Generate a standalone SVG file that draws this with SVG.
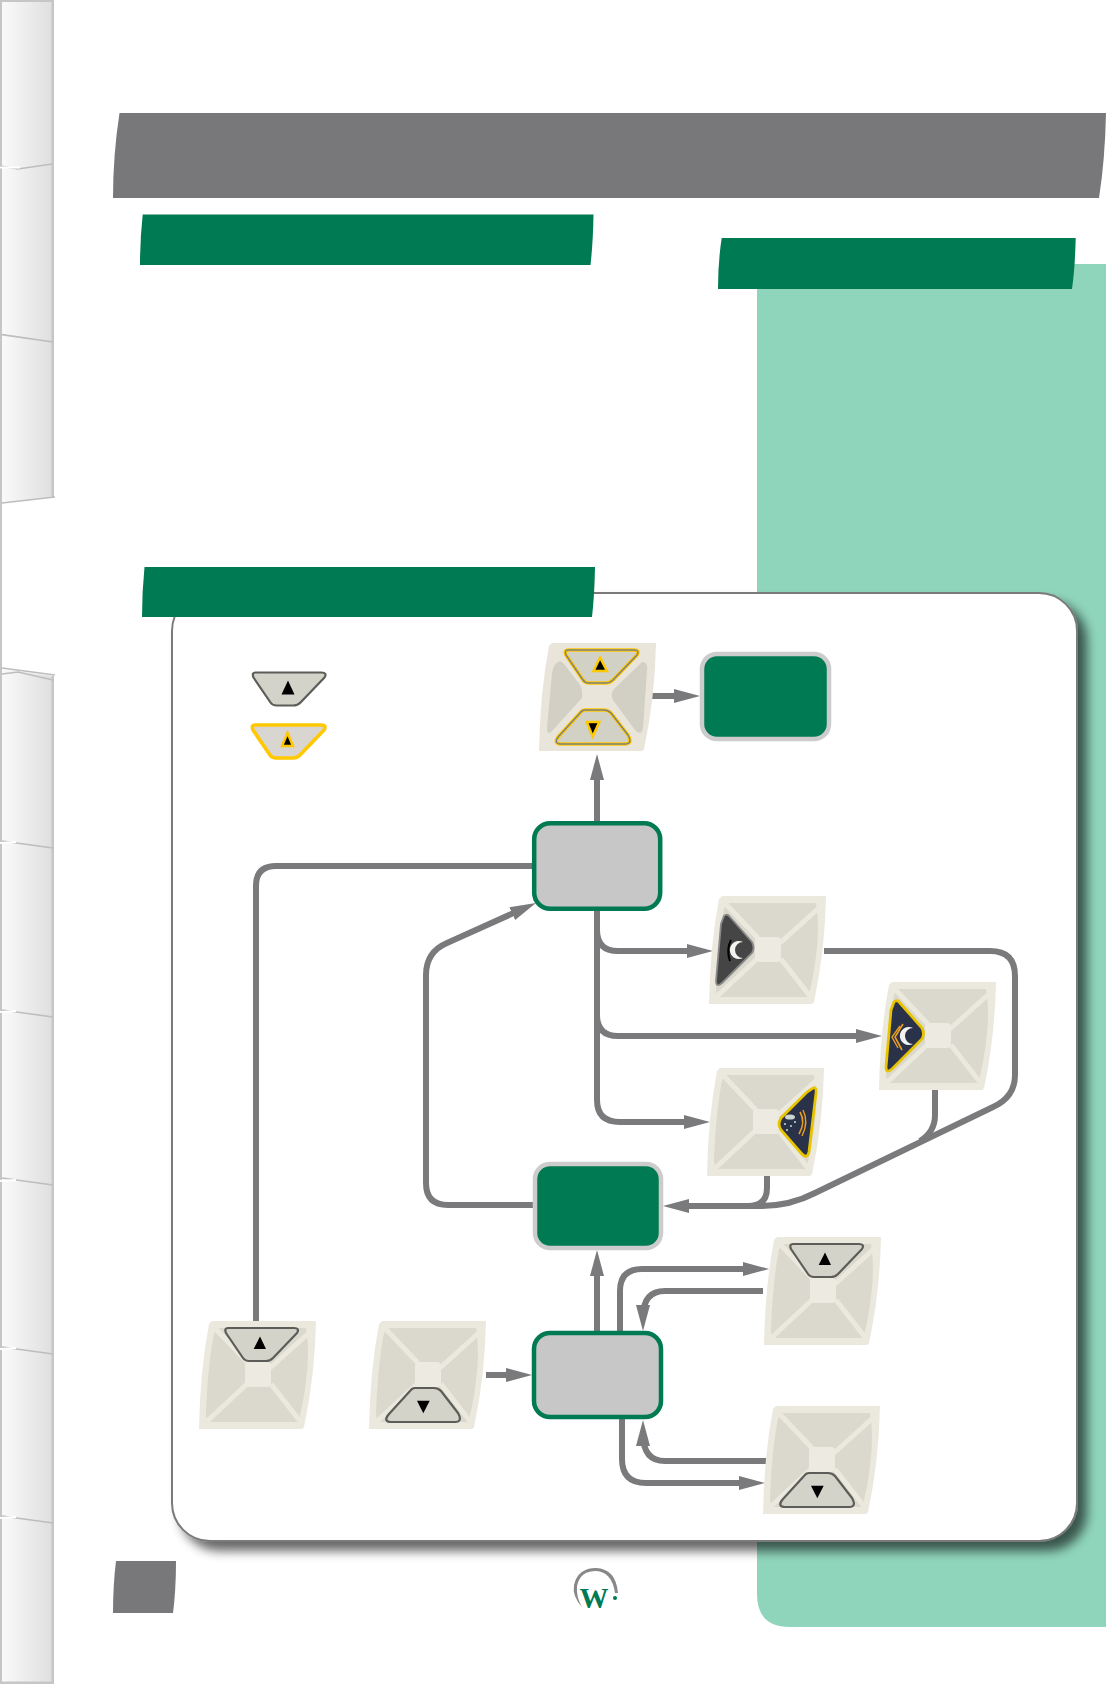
<svg xmlns="http://www.w3.org/2000/svg" width="1106" height="1684" viewBox="0 0 1106 1684">
<style>
.cn{fill:none;stroke:#7a7a7c;stroke-width:6}
.arr{marker-end:url(#head)}
.gbox{fill:#c8c7c8;stroke:#007a53;stroke-width:4.5}
.cbox{fill:#007a53;stroke:#cccccc;stroke-width:4.5}
.pad{fill:#ebe8de}
.pn{fill:#dbd9cd}
.pn2{fill:#d2cfc4}
.gap{fill:none;stroke:#ebe8de;stroke-width:5}
.bg{fill:#d3d3c9;stroke:#5c5c58;stroke-width:2.2;stroke-linejoin:round}
.by{fill:#d2d1c5;stroke:#ffc800;stroke-width:3.6;stroke-linejoin:round}
.byi{fill:none;stroke:#7f8080;stroke-width:1.4}
.tri{fill:#000}
.triy{fill:#000;stroke:#ffc800;stroke-width:2.5}
.hdr{fill:#007a53}
.tabd{fill:none;stroke:#bdbdbd;stroke-width:1.6}
.tabw{fill:none;stroke:#ffffff;stroke-width:2}
</style>
<defs>
<linearGradient id="side" x1="0" y1="0" x2="1" y2="0"><stop offset="0" stop-color="#fbfbfb"/><stop offset="1" stop-color="#dedede"/></linearGradient>
<filter id="shadow" x="-5%" y="-5%" width="112%" height="112%"><feGaussianBlur in="SourceAlpha" stdDeviation="5.5"/><feOffset dx="9" dy="9"/><feComponentTransfer><feFuncA type="linear" slope="0.6"/></feComponentTransfer><feMerge><feMergeNode/><feMergeNode in="SourceGraphic"/></feMerge></filter>
<filter id="soft" x="-5%" y="-5%" width="110%" height="110%"><feGaussianBlur stdDeviation="0.7"/></filter>
<marker id="head" markerUnits="userSpaceOnUse" markerWidth="28" markerHeight="16" refX="12" refY="7.5" orient="auto"><path d="M0,0.5 L26,7.5 L0,14.5 Z" fill="#7a7a7c"/></marker>
<path id="padshape" d="M12,1 Q12.5,0 14,0 H117 Q116,55 105,106 Q104.5,108 102,108 H0 Q1,50 10,3 Z"/>
<path id="ptop" d="M29,7 H95 Q101,7 98,12 L74,37 Q71,40 67,40 H50 Q46,40 44,37 L27,12 Q25,7 29,7 Z"/>
<path id="pbot" d="M46,67 H65 Q69,67 72,70 L89,92 Q94,101 86,101 H21 Q14,100 20,93 L41,70 Q43,67 46,67 Z"/>
<path id="pleft" d="M19,19 Q22,17 25,21 L41,42 Q44,47 43,55 L13,88 Q8,93 8,85 L13,30 Q14,22 19,19 Z"/>
<path id="pright" d="M103,19 Q109,19 108,27 L104,85 Q102,94 96,87 L74,57 Q71,50 75,46 L100,22 Z"/>
<g id="padbase">
<use href="#padshape" class="pad"/>
<path class="pn" d="M20,7 H107 Q111,30 107,60 Q104,85 99,101 H12 Q6,99 7,90 Q9,45 14,18 Q15,8 20,7 Z"/>
<path class="gap" d="M12,3 L49,42 M112,10 L71,47 M72,63 L104,104 M48,63 L4,104"/>
<rect x="46" y="41" width="26" height="25" rx="4" fill="#edeae1"/>
</g>
</defs>

<rect width="1106" height="1684" fill="#ffffff"/>

<g id="sidebar">
<rect x="0" y="0" width="54" height="1684" fill="url(#side)"/>
<path d="M0,0 H2 V1684 H0 Z M51.5,0 H54 V1684 H51.5 Z M0,0 H54 V2 H0 Z M0,1681.5 H54 V1684 H0 Z" fill="#c6c6c6"/>
<path d="M2,503 L54,497 V676 L2,669 Z" fill="#ffffff"/>
<path d="M0,503 H2 V669 H0 Z" fill="#c6c6c6"/>
<path d="M2,503 L55,497" class="tabd"/>
<path d="M2,668 L55,675" class="tabd"/>
<path d="M2,674 L18,672 L53,680" class="tabd"/>
<path d="M0,166 L18,169 L52,164" class="tabd"/>
<path d="M0,167.5 H20" class="tabw"/>
<path d="M2,334.6 L53,342" class="tabd"/>
<g class="tabd">
<path d="M2,841 L53,848"/><path d="M2,1010 L53,1017"/><path d="M2,1178 L53,1185"/><path d="M2,1347 L53,1354"/><path d="M2,1516 L53,1523"/>
</g>
<g class="tabw">
<path d="M0,843 L16,842"/><path d="M0,1012 L16,1011"/><path d="M0,1181 L16,1180"/><path d="M0,1349 L16,1348"/><path d="M0,1518 L16,1517"/>
</g>
</g>

<g id="backdrop">
<path d="M757,264 H1106 V1627 H790 Q757,1627 757,1594 Z" fill="#8fd5bc"/>
<path d="M119.5,113 H1106 Q1105,160 1099,198 H113 Q113,155 119.5,113 Z" fill="#78787a"/>
<path class="hdr" d="M142.7,214.5 H593.5 Q593,243 590.5,265 H140 Q140,240 142.7,214.5 Z"/>
<path class="hdr" d="M721.7,238 H1075.7 Q1075,268 1072,289 H718 Q718,262 721.7,238 Z"/>
<rect x="172" y="593" width="905" height="948" rx="38" ry="38" fill="#ffffff" stroke="#7a7a7c" stroke-width="2" filter="url(#shadow)"/>
<path class="hdr" d="M144.5,567 H595 Q594.5,595 592,617 H142 Q142,592 144.5,567 Z"/>
<path d="M116,1561 H176 Q176,1590 173,1613 H113 Q113,1585 116,1561 Z" fill="#78787a"/>
</g>

<g id="connectors">
<path class="cn arr" d="M597,821 V768"/>
<path class="cn arr" d="M651,696 H686"/>
<path class="cn" d="M534,866 H276 Q256,866 256,886 V1322"/>
<path class="cn arr" d="M535,1205 H448 Q426,1205 426,1183 V975 Q426,952 447,943 L523.2,908.7"/>
<path class="cn arr" d="M597,911 V930 Q597,951 618,951 H699"/>
<path class="cn arr" d="M597,930 V1015 Q597,1036 618,1036 H868"/>
<path class="cn arr" d="M597,1015 V1100 Q597,1122 620,1122 H696"/>
<path class="cn arr" d="M824,951 H990 Q1015,951 1015,976 V1075 Q1015,1097 993,1107 L815,1193 Q790,1206 760,1206 H677"/>
<path class="cn" d="M935,1090 V1115 Q935,1132 920,1141"/>
<path class="cn" d="M767,1176 V1188 Q767,1206 748,1206"/>
<path class="cn arr" d="M597,1331 V1264"/>
<path class="cn arr" d="M486,1375 H518"/>
<path class="cn arr" d="M620,1331 V1291 Q620,1269 642,1269 H755"/>
<path class="cn arr" d="M763,1291 H665 Q643,1291 643,1317"/>
<path class="cn arr" d="M767,1461 H665 Q643,1461 643,1434"/>
<path class="cn arr" d="M622,1419 V1459 Q622,1483 646,1483 H751"/>
</g>

<g id="legend-gray" transform="translate(226.5,665.5)">
<use href="#ptop" class="bg"/><path class="tri" d="M55,29 H68 L61.5,15 Z"/>
</g>
<g id="legend-yellow" transform="translate(226,718)">
<use href="#ptop" class="by" style="fill:#d9d6d2"/><path class="triy" d="M56,28 H67 L61.5,15 Z"/>
</g>

<g id="pad-yellow" transform="translate(539,643)">
<use href="#padshape" fill="#e9e5da"/><use href="#pleft" class="pn2"/><use href="#pright" class="pn2"/>
<use href="#ptop" class="by"/><use href="#ptop" class="byi"/><path class="triy" d="M54.5,28 H68 L61,14.5 Z"/>
<use href="#pbot" class="by"/><use href="#pbot" class="byi"/><path class="triy" d="M47.7,79 H60.3 L53.7,93.5 Z"/>
</g>

<g id="box-a"><rect class="cbox" x="702" y="654" width="127" height="85" rx="15"/></g>
<g id="box-b"><rect class="gbox" x="534.2" y="823.2" width="126" height="85.6" rx="16"/></g>
<g id="box-c"><rect class="cbox" x="535" y="1164" width="126" height="84" rx="15"/></g>
<g id="box-d"><rect class="gbox" x="534" y="1333" width="127" height="84" rx="16"/></g>

<g id="pad-moon" transform="translate(709,896)" filter="url(#soft)">
<use href="#padbase"/>
<path d="M15,20 Q18,17 21,21 L43,46 Q46,52 43,57 L13,87 Q7,92 7,85 L12,28 Z" fill="#454545" stroke="#8a8a8a" stroke-width="1.8"/>
<path d="M22,44 Q17,54 21,65" fill="none" stroke="#000" stroke-width="2"/>
<path d="M34,46 A9,9 0 1 0 34,62 A7.5,7.5 0 1 1 34,46 Z" fill="#f2f2ee"/>
</g>

<g id="pad-moon-on" transform="translate(879,982)" filter="url(#soft)">
<use href="#padbase"/>
<path d="M15,20 Q18,17 21,21 L43,46 Q46,52 43,57 L13,87 Q7,92 7,85 L12,28 Z" fill="#2c3048" stroke="#e8c400" stroke-width="2.8"/>
<path d="M24,42 L16,55 L23,68" fill="none" stroke="#e8a020" stroke-width="1.6"/>
<path d="M21,44 L13,55 L19,66" fill="none" stroke="#e8a020" stroke-width="1.4"/>
<path d="M34,46 A9,9 0 1 0 34,62 A7.5,7.5 0 1 1 34,46 Z" fill="#f2f2ee"/>
</g>

<g id="pad-stars-on" transform="translate(707,1068)" filter="url(#soft)">
<use href="#padbase"/>
<path d="M106,20 Q110,19 109,25 L102,84 Q100,92 94,85 L74,62 Q70,56 74,50 L100,24 Z" fill="#2c3048" stroke="#e8c400" stroke-width="2.8"/>
<path d="M93,44 Q99,54 92,66" fill="none" stroke="#e8a020" stroke-width="1.6"/>
<path d="M96,42 Q102,54 95,68" fill="none" stroke="#e8a020" stroke-width="1.4"/>
<ellipse cx="83" cy="49" rx="5" ry="2.6" fill="#c9d6d2"/>
<circle cx="78" cy="56" r="1" fill="#bfe3d8"/><circle cx="84" cy="58" r="1" fill="#bfe3d8"/><circle cx="80" cy="62" r="1" fill="#bfe3d8"/><circle cx="88" cy="54" r="1" fill="#bfe3d8"/>
</g>

<g id="pad-up-left" transform="translate(199,1321)" filter="url(#soft)">
<use href="#padbase"/><use href="#ptop" class="bg"/><path class="tri" d="M54.7,28 H67 L61,15.5 Z"/>
</g>
<g id="pad-down-left" transform="translate(369,1321)" filter="url(#soft)">
<use href="#padbase"/><use href="#pbot" class="bg"/><path class="tri" d="M48,79.7 H60.7 L54.3,92.3 Z"/>
</g>
<g id="pad-up-right" transform="translate(764,1237)" filter="url(#soft)">
<use href="#padbase"/><use href="#ptop" class="bg"/><path class="tri" d="M54.7,28 H67 L61,15.5 Z"/>
</g>
<g id="pad-down-right" transform="translate(763,1406)" filter="url(#soft)">
<use href="#padbase"/><use href="#pbot" class="bg"/><path class="tri" d="M48,79.7 H60.7 L54.3,92.3 Z"/>
</g>

<g id="logo">
<path d="M582,1607 Q572,1596 574,1585 Q578,1568 596,1568 Q616,1569 618,1593 L615,1593 Q612,1572 596,1571 Q580,1571 577,1586 Q576,1597 582,1607 Z" fill="#88888a"/>
<circle cx="615" cy="1598" r="2" fill="#007a53"/>
<text x="594" y="1608" text-anchor="middle" font-family="'Liberation Serif',serif" font-weight="bold" font-size="29" fill="#007a53">W</text>
</g>
</svg>
